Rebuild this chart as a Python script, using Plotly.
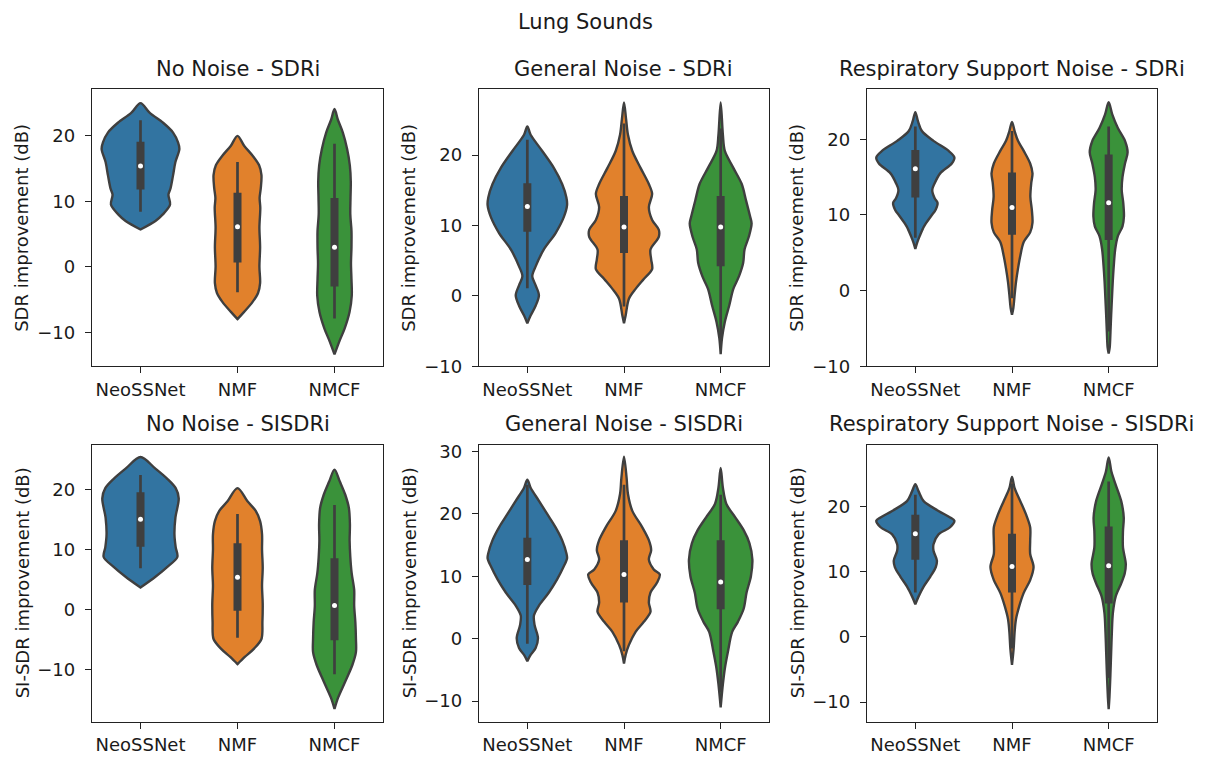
import plotly.graph_objects as go

# ---------------- data ----------------
categories = ["NeoSSNet", "NMF", "NMCF"]
suptitle = "Lung Sounds"
panel_titles = ["No Noise - SDRi", "General Noise - SDRi", "Respiratory Support Noise - SDRi",
                "No Noise - SISDRi", "General Noise - SISDRi", "Respiratory Support Noise - SISDRi"]
panel_ylabels = ["SDR improvement (dB)"] * 3 + ["SI-SDR improvement (dB)"] * 3
panel_yranges = [[-15.2, 27.1], [-10, 29.35], [-10, 26.6],
                 [-18.7, 27.5], [-13.3, 31.05], [-13.0, 29.4]]
panel_yticks = [[-10, 0, 10, 20], [-10, 0, 10, 20], [-10, 0, 10, 20],
                [-10, 0, 10, 20], [-10, 0, 10, 20, 30], [-10, 0, 10, 20]]

# density profiles (value level, half width in category units)
# --- No Noise - SDRi
nn_sdr_neo_y = [25.0, 23.5, 22.0, 20.5, 19.0, 18.0, 16.0, 14.0, 12.0, 11.0, 9.5, 8.0, 7.0, 5.7]
nn_sdr_neo_w = [0, .096, .233, .336, .387, .401, .36, .336, .31, .288, .305, .23, .154, 0]
nn_sdr_nmf_y = [20.0, 18.5, 17.0, 15.5, 14.0, 12.0, 10.5, 9.0, 6.0, 3.0, 0.0, -2.5, -4.0, -5.4, -6.9, -8.0]
nn_sdr_nmf_w = [0, .068, .154, .223, .247, .24, .228, .235, .226, .233, .226, .233, .212, .154, .068, 0]
nn_sdr_nmcf_y = [24.1, 22.5, 20.5, 18.0, 15.5, 13.0, 10.5, 8.0, 5.5, 3.0, 0.5, -1.9, -4.4, -6.9, -9.4, -11.4, -13.4]
nn_sdr_nmcf_w = [0, .034, .086, .13, .158, .168, .165, .163, .175, .175, .17, .175, .178, .155, .105, .05, 0]
nn_sdr_q1 = [11.8, 0.65, -3.0]
nn_sdr_med = [15.4, 6.1, 3.0]
nn_sdr_q3 = [19.1, 11.3, 10.5]
nn_sdr_wlo = [8.4, -3.9, -7.9]
nn_sdr_whi = [22.4, 16.0, 18.8]

# --- General Noise - SDRi
gn_sdr_neo_y = [24.1, 22.9, 20.6, 18.2, 15.9, 14.0, 12.9, 11.2, 8.9, 6.6, 4.2, 2.8, 1.5, 0.1, -1.4, -2.8, -3.9]
gn_sdr_neo_w = [0, .034, .154, .274, .36, .404, .411, .377, .291, .171, .086, .051, .086, .12, .086, .034, 0]
gn_sdr_nmf_y = [27.5, 25.2, 22.9, 20.6, 18.2, 15.9, 14.5, 12.6, 10.8, 9.4, 8.4, 6.6, 5.2, 3.8, 2.4, 1.0, -0.4, -2.8, -3.9]
gn_sdr_nmf_w = [0, .021, .041, .086, .171, .257, .291, .257, .291, .36, .36, .274, .281, .291, .205, .12, .051, .017, 0]
gn_sdr_nmcf_y = [27.5, 22.9, 20.6, 18.2, 15.9, 13.6, 11.2, 10.3, 8.4, 6.6, 4.7, 2.8, 1.0, -1.4, -3.7, -6.0, -8.3]
gn_sdr_nmcf_w = [0, .023, .043, .131, .218, .262, .306, .32, .291, .247, .233, .19, .131, .088, .043, .014, 0]
gn_sdr_q1 = [9.1, 6.1, 4.2]
gn_sdr_med = [12.7, 9.8, 9.8]
gn_sdr_q3 = [16.0, 14.2, 14.2]
gn_sdr_wlo = [1.1, -1.5, -6.5]
gn_sdr_whi = [22.2, 24.5, 23.8]

# --- Respiratory Support Noise - SDRi
rs_sdr_neo_y = [23.6, 22.4, 21.1, 19.8, 18.5, 17.6, 16.8, 15.5, 14.2, 13.3, 12.2, 11.6, 10.7, 9.8, 8.5, 7.2, 6.4, 5.5]
rs_sdr_neo_w = [0, .027, .068, .188, .342, .404, .377, .257, .2, .175, .2, .23, .21, .16, .09, .045, .021, 0]
rs_sdr_nmf_y = [22.3, 21.1, 19.8, 18.5, 16.8, 15.5, 14.2, 12.4, 10.7, 9.0, 7.7, 6.4, 4.6, 2.9, 1.1, -0.6, -2.3, -3.2]
rs_sdr_nmf_w = [0, .027, .062, .12, .188, .212, .199, .19, .205, .212, .188, .12, .086, .062, .041, .027, .014, 0]
rs_sdr_nmcf_y = [24.9, 23.3, 21.5, 19.8, 18.3, 16.8, 15.0, 13.3, 11.6, 9.8, 8.5, 7.2, 5.5, 3.3, 1.1, -1.0, -3.2, -5.4, -7.5, -8.3]
rs_sdr_nmcf_w = [0, .037, .095, .169, .196, .169, .143, .135, .151, .158, .143, .095, .068, .053, .042, .034, .026, .019, .011, 0]
rs_sdr_q1 = [12.3, 7.4, 6.7]
rs_sdr_med = [16.1, 11.0, 11.6]
rs_sdr_q3 = [18.6, 15.6, 18.0]
rs_sdr_wlo = [7.0, -1.0, -5.4]
rs_sdr_whi = [21.7, 21.1, 21.7]

# --- No Noise - SISDRi
nn_si_neo_y = [25.5, 23.6, 21.9, 20.3, 18.6, 15.4, 12.6, 10.4, 8.8, 7.2, 5.5, 3.7]
nn_si_neo_w = [0, .151, .274, .363, .394, .36, .35, .363, .38, .28, .154, 0]
nn_si_nmf_y = [20.3, 18.1, 16.5, 14.8, 12.6, 10.0, 7.0, 4.0, 1.0, -2.0, -4.9, -6.5, -7.9, -9.1]
nn_si_nmf_w = [0, .103, .188, .233, .253, .253, .26, .253, .26, .257, .247, .171, .075, 0]
nn_si_nmcf_y = [23.4, 21.4, 19.2, 17.0, 14.3, 11.5, 8.8, 6.1, 3.3, 0.6, -2.1, -4.9, -7.1, -9.2, -12.0, -14.7, -16.6]
nn_si_nmcf_w = [0, .055, .111, .148, .159, .156, .163, .177, .203, .203, .215, .221, .221, .185, .111, .037, 0]
nn_si_q1 = [10.5, -0.2, -5.1]
nn_si_med = [15.1, 5.4, 0.7]
nn_si_q3 = [19.6, 11.1, 8.6]
nn_si_wlo = [6.9, -4.7, -10.8]
nn_si_whi = [22.5, 16.0, 17.5]

# --- General Noise - SISDRi
gn_si_neo_y = [25.5, 24.2, 22.1, 20.0, 17.9, 15.8, 13.7, 12.9, 11.6, 9.5, 7.4, 5.3, 3.7, 2.2, 0.1, -1.5, -2.6, -3.6]
gn_si_neo_w = [0, .034, .12, .205, .291, .36, .404, .411, .377, .308, .223, .12, .068, .075, .11, .086, .034, 0]
gn_si_nmf_y = [29.2, 25.8, 23.2, 20.5, 17.9, 15.8, 14.2, 12.7, 11.1, 10.3, 9.0, 7.4, 5.8, 4.3, 2.7, 1.1, -1.0, -2.6, -4.0]
gn_si_nmf_w = [0, .027, .041, .086, .188, .257, .281, .257, .308, .37, .342, .274, .257, .274, .205, .12, .051, .017, 0]
gn_si_nmcf_y = [27.4, 24.2, 21.6, 19.5, 17.4, 15.3, 12.7, 10.0, 7.4, 4.8, 2.7, 1.1, -2.1, -4.7, -7.3, -11.0]
gn_si_nmcf_w = [0, .023, .059, .149, .238, .298, .328, .313, .268, .238, .178, .119, .075, .044, .023, 0]
gn_si_q1 = [8.6, 5.8, 4.7]
gn_si_med = [12.7, 10.3, 9.1]
gn_si_q3 = [16.2, 15.8, 15.8]
gn_si_wlo = [-0.8, -2.0, -8.6]
gn_si_whi = [24.7, 24.7, 23.1]

# --- Respiratory Support Noise - SISDRi
rs_si_neo_y = [23.4, 22.3, 20.8, 19.3, 18.3, 17.8, 16.8, 15.7, 14.2, 13.2, 11.7, 10.7, 9.2, 7.7, 6.2, 5.0]
rs_si_neo_w = [0, .034, .086, .24, .36, .404, .36, .24, .188, .188, .223, .212, .154, .086, .034, 0]
rs_si_nmf_y = [24.5, 22.8, 20.8, 18.8, 16.8, 14.7, 12.7, 10.7, 8.7, 6.7, 4.7, 2.7, 0.7, -1.8, -4.3]
rs_si_nmf_w = [0, .027, .086, .144, .188, .188, .188, .223, .188, .12, .075, .041, .027, .017, 0]
rs_si_nmcf_y = [27.5, 25.3, 23.3, 20.8, 18.3, 16.2, 13.7, 11.2, 9.7, 8.2, 6.2, 3.7, 0.7, -2.3, -5.8, -9.3, -11.1]
rs_si_nmcf_w = [0, .029, .073, .13, .156, .148, .148, .177, .166, .13, .073, .044, .033, .026, .018, .008, 0]
rs_si_q1 = [11.8, 6.8, 5.1]
rs_si_med = [15.8, 10.8, 10.9]
rs_si_q3 = [18.7, 15.8, 16.9]
rs_si_wlo = [6.8, -1.8, -6.3]
rs_si_whi = [21.8, 23.5, 23.8]

# ---------------- assembly ----------------
panels = [
    ([(nn_sdr_neo_y, nn_sdr_neo_w), (nn_sdr_nmf_y, nn_sdr_nmf_w), (nn_sdr_nmcf_y, nn_sdr_nmcf_w)],
     nn_sdr_q1, nn_sdr_med, nn_sdr_q3, nn_sdr_wlo, nn_sdr_whi),
    ([(gn_sdr_neo_y, gn_sdr_neo_w), (gn_sdr_nmf_y, gn_sdr_nmf_w), (gn_sdr_nmcf_y, gn_sdr_nmcf_w)],
     gn_sdr_q1, gn_sdr_med, gn_sdr_q3, gn_sdr_wlo, gn_sdr_whi),
    ([(rs_sdr_neo_y, rs_sdr_neo_w), (rs_sdr_nmf_y, rs_sdr_nmf_w), (rs_sdr_nmcf_y, rs_sdr_nmcf_w)],
     rs_sdr_q1, rs_sdr_med, rs_sdr_q3, rs_sdr_wlo, rs_sdr_whi),
    ([(nn_si_neo_y, nn_si_neo_w), (nn_si_nmf_y, nn_si_nmf_w), (nn_si_nmcf_y, nn_si_nmcf_w)],
     nn_si_q1, nn_si_med, nn_si_q3, nn_si_wlo, nn_si_whi),
    ([(gn_si_neo_y, gn_si_neo_w), (gn_si_nmf_y, gn_si_nmf_w), (gn_si_nmcf_y, gn_si_nmcf_w)],
     gn_si_q1, gn_si_med, gn_si_q3, gn_si_wlo, gn_si_whi),
    ([(rs_si_neo_y, rs_si_neo_w), (rs_si_nmf_y, rs_si_nmf_w), (rs_si_nmcf_y, rs_si_nmcf_w)],
     rs_si_q1, rs_si_med, rs_si_q3, rs_si_wlo, rs_si_whi),
]

W, H = 1211, 764
fills = ["#3274a1", "#e1812c", "#3a923a"]
edge = "#3f3f3f"
FONT = "DejaVu Sans"

x_doms = [[92 / W, 383 / W], [479 / W, 769 / W], [867 / W, 1157 / W]]
y_doms = [[1 - 369 / H, 1 - 87 / H], [1 - 731 / H, 1 - 449.3 / H]]
ylabel_x = [22 / W, 409 / W, 797 / W]
title_y = [1 - 66 / H, 1 - 428 / H]

fig = go.Figure()
layout = {}
annotations = []

for k, (violins, q1, med, q3, wlo, whi) in enumerate(panels):
    r, c = divmod(k, 3)
    sfx = "" if k == 0 else str(k + 1)
    xref, yref = "x" + sfx, "y" + sfx
    for i, (yv, wv) in enumerate(violins):
        xs = [i + w for w in wv] + [i - w for w in reversed(wv)]
        ys = list(yv) + list(reversed(yv))
        fig.add_trace(go.Scatter(
            x=xs, y=ys, xaxis=xref, yaxis=yref, mode="lines", fill="toself",
            fillcolor=fills[i], line=dict(color=edge, width=2.4, shape="spline", smoothing=0.9),
            hoverinfo="skip", showlegend=False))
        fig.add_trace(go.Scatter(
            x=[i, i], y=[wlo[i], whi[i]], xaxis=xref, yaxis=yref, mode="lines",
            line=dict(color=edge, width=2.7), hoverinfo="skip", showlegend=False))
        fig.add_trace(go.Scatter(
            x=[i, i], y=[q1[i], q3[i]], xaxis=xref, yaxis=yref, mode="lines",
            line=dict(color=edge, width=8), hoverinfo="skip", showlegend=False))
        fig.add_trace(go.Scatter(
            x=[i], y=[med[i]], xaxis=xref, yaxis=yref, mode="markers",
            marker=dict(color="white", size=5, line=dict(width=0)),
            hoverinfo="skip", showlegend=False))

    axis_common = dict(showline=True, linecolor="#222222", linewidth=1.3, mirror=True,
                       ticks="outside", ticklen=6, tickwidth=1.3, tickcolor="#222222",
                       showgrid=False, zeroline=False,
                       tickfont=dict(family=FONT, size=18, color="#1a1a1a"))
    layout["xaxis" + sfx] = dict(domain=x_doms[c], anchor=yref, range=[-0.5, 2.5],
                                 tickmode="array", tickvals=[0, 1, 2], ticktext=categories,
                                 ticklabelstandoff=1, **axis_common)
    layout["yaxis" + sfx] = dict(domain=y_doms[r], anchor=xref, range=panel_yranges[k],
                                 tickmode="array", tickvals=panel_yticks[k],
                                 ticklabelstandoff=6, **axis_common)
    annotations.append(dict(text=panel_titles[k], xref="paper", yref="paper",
                            x=(x_doms[c][0] + x_doms[c][1]) / 2, y=title_y[r],
                            xanchor="center", yanchor="middle", showarrow=False,
                            font=dict(family=FONT, size=21, color="#1a1a1a")))
    annotations.append(dict(text=panel_ylabels[k], xref="paper", yref="paper",
                            x=ylabel_x[c], y=(y_doms[r][0] + y_doms[r][1]) / 2,
                            xanchor="center", yanchor="middle", textangle=-90, showarrow=False,
                            font=dict(family=FONT, size=18, color="#1a1a1a")))

annotations.append(dict(text=suptitle, xref="paper", yref="paper", x=585 / W, y=1 - 18 / H,
                        xanchor="center", yanchor="middle", showarrow=False,
                        font=dict(family=FONT, size=21, color="#1a1a1a")))

fig.update_layout(width=W, height=H, margin=dict(l=0, r=0, t=0, b=0),
                  paper_bgcolor="white", plot_bgcolor="white",
                  annotations=annotations, showlegend=False, **layout)

fig.write_html("out.html", config={"displayModeBar": False},
               post_script="document.body.style.margin='0';")
